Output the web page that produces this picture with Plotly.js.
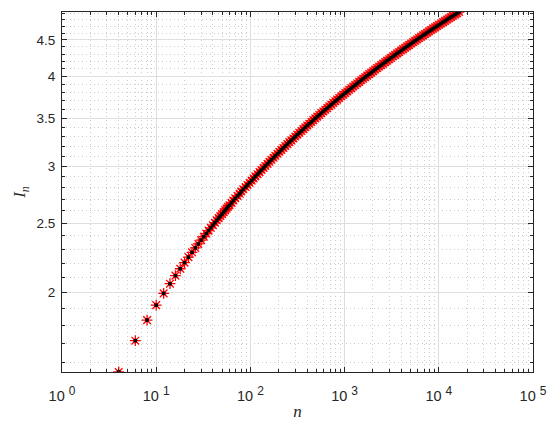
<!DOCTYPE html>
<html>
<head>
<meta charset="utf-8">
<script src="https://cdn.plot.ly/plotly-3.0.1.min.js"></script>
<style>html,body{margin:0;padding:0;background:#fff;}#chart{width:550px;height:421px;}</style>
</head>
<body>
<div id="chart"></div>
<script>
// sample sizes n
const nValues = [4,6,8,10,12,14,16,18,20,22,24,26,28,30,32,34,36,38,40,42,44,46,48,50,52,54,56,58,60,
63,66,69,73,77,80,84,89,93,98,103,108,113,119,125,131,138,144,152,159,167,176,184,194,203,213,224,235,247,259,272,286,300,315,331,348,365,383,402,422,444,466,489,513,539,566,594,624,655,688,722,759,797,836,878,922,968,1017,1067,1121,1177,1236,1297,1362,1430,1502,1577,1656,1739,1826,1917,2013,2113,2219,2330,2447,2569,2697,2832,2974,3122,3279,3443,3615,3795,3985,4184,4394,4613,4844,5086,5341,5608,5888,6182,6491,6816,7157,7515,7890,8285,8699,9134,9591,10070,10574,11103,11658,12241,12853,13495,14170,14879,15622,16384];
// values I_n
const iValues = [1.551,1.715,1.832,1.922,1.996,2.059,2.113,2.160,2.203,2.242,2.277,2.309,2.339,2.367,2.394,2.418,2.441,2.463,2.484,2.504,2.523,2.541,2.558,2.574,2.590,2.606,2.620,2.635,2.648,
2.668,2.688,2.708,2.728,2.747,2.767,2.787,2.807,2.826,2.846,2.866,2.886,2.905,2.925,2.945,2.965,2.985,3.004,3.024,3.044,3.064,3.083,3.103,3.123,3.143,3.163,3.182,3.202,3.222,3.242,3.261,3.281,3.301,3.321,3.341,3.360,3.380,3.400,3.420,3.439,3.459,3.479,3.499,3.519,3.538,3.558,3.578,3.598,3.617,3.637,3.657,3.677,3.697,3.716,3.736,3.756,3.776,3.795,3.815,3.835,3.855,3.875,3.894,3.914,3.934,3.954,3.973,3.993,4.013,4.033,4.052,4.072,4.092,4.112,4.132,4.151,4.171,4.191,4.211,4.230,4.250,4.270,4.290,4.310,4.329,4.349,4.369,4.389,4.408,4.428,4.448,4.468,4.488,4.507,4.527,4.547,4.567,4.586,4.606,4.626,4.646,4.666,4.685,4.705,4.725,4.745,4.764,4.784,4.804,4.824,4.843,4.863,4.883,4.903,4.922];

const xMajorTicks = [1,10,100,1000,10000,100000];
const xExponents = ['0','1','2','3','4','5'];
const xMajorLabels = xExponents.map(e => '10 <sup><span style="font-size:12px">' + e + '</span></sup>');
const xMinorTicks = [2,3,4,5,6,7,8,9,20,30,40,50,60,70,80,90,200,300,400,500,600,700,800,900,2000,3000,4000,5000,6000,7000,8000,9000,20000,30000,40000,50000,60000,70000,80000,90000];
const yMajorTicks = [2,2.5,3,3.5,4,4.5];
const yMajorLabels = ['2','2.5','3','3.5','4','4.5'];
const yMinorTicks = [1.6,1.7,1.8,1.9,2.1,2.2,2.3,2.4,2.6,2.7,2.8,2.9,3.1,3.2,3.3,3.4,3.6,3.7,3.8,3.9,4.1,4.2,4.3,4.4,4.6,4.7,4.8,4.9];

const axisColor = '#262626';

const traces = [
  {x:nValues, y:iValues, type:'scatter', mode:'markers',
   marker:{symbol:'asterisk-open', size:9, color:'#ff0000', line:{color:'#ff0000', width:1.3}},
   hoverinfo:'skip'},
  {x:nValues, y:iValues, type:'scatter', mode:'markers',
   marker:{symbol:'square', size:3.5, color:'#000000', line:{width:0}},
   hoverinfo:'skip'}
];

const layout = {
  width:550, height:421,
  margin:{l:62, r:17, t:12, b:49},
  paper_bgcolor:'#ffffff', plot_bgcolor:'#ffffff',
  showlegend:false,
  xaxis:{
    type:'log', range:[0,5],
    tickmode:'array', tickvals:xMajorTicks, ticktext:xMajorLabels,
    ticks:'inside', ticklen:5, tickwidth:1, tickcolor:axisColor,
    showline:true, linecolor:axisColor, linewidth:1, mirror:'ticks',
    showgrid:true, gridcolor:'#dedede', gridwidth:1,
    tickfont:{family:'Liberation Sans, Arial, sans-serif', size:14.5, color:axisColor},
    ticklabelstandoff:11,
    minor:{tickmode:'array', tickvals:xMinorTicks, ticks:'inside', ticklen:3, tickcolor:axisColor,
           showgrid:true, gridcolor:'#cccccc', griddash:'1px,3px', gridwidth:1},
    title:{text:'<i>n</i>', font:{family:'Liberation Serif, serif', size:17, color:axisColor}, standoff:3},
    zeroline:false
  },
  yaxis:{
    type:'log', range:[Math.log10(1.551), Math.log10(4.922)],
    tickmode:'array', tickvals:yMajorTicks, ticktext:yMajorLabels,
    ticks:'inside', ticklen:5, tickwidth:1, tickcolor:axisColor,
    showline:true, linecolor:axisColor, linewidth:1, mirror:'ticks',
    showgrid:true, gridcolor:'#dedede', gridwidth:1,
    tickfont:{family:'Liberation Sans, Arial, sans-serif', size:13.5, color:axisColor},
    ticklabelstandoff:3,
    minor:{tickmode:'array', tickvals:yMinorTicks, ticks:'inside', ticklen:3, tickcolor:axisColor,
           showgrid:true, gridcolor:'#cccccc', griddash:'1px,3px', gridwidth:1},
    title:{text:'<i>I</i><sub><i>n</i></sub>', font:{family:'Liberation Serif, serif', size:17, color:axisColor}, standoff:6},
    zeroline:false
  }
};

Plotly.newPlot('chart', traces, layout, {displayModeBar:false, staticPlot:true});
</script>
</body>
</html>
